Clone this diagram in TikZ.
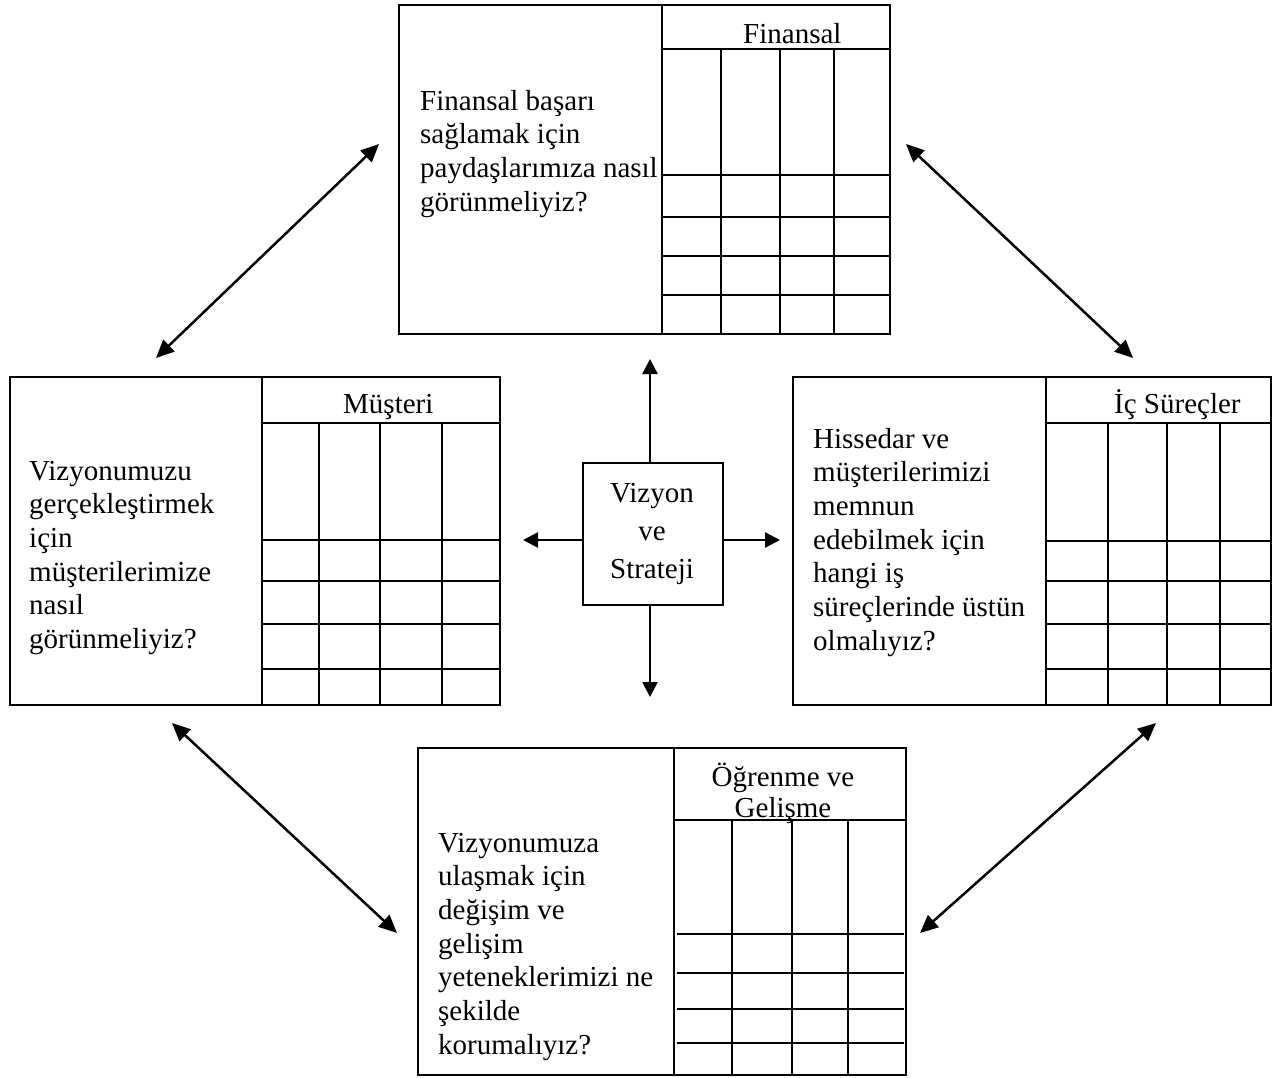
\documentclass[tikz,border=0pt]{standalone}
\usepackage{fontspec}
\setmainfont{Liberation Serif}
\usetikzlibrary{arrows.meta}
\begin{document}
\begin{tikzpicture}[x=1pt,y=-1pt,
  card/.style={draw, line width=1.8pt, inner sep=0pt, anchor=north west},
  gridline/.style={line width=1.8pt},
  txt/.style={anchor=base west, inner sep=0pt, font=\fontsize{29}{33.7}\selectfont},
  hdr/.style={anchor=base west, inner sep=0pt, font=\fontsize{29}{33.7}\selectfont},
  dblarrow/.style={line width=2.5pt, {Triangle[length=18pt,width=16pt]}-{Triangle[length=18pt,width=16pt]}},
  sarrow/.style={line width=2.5pt, -{Triangle[length=15pt,width=15pt]}}]
\useasboundingbox[fill=white] (0,0) rectangle (1277,1077);

% ---------- Top: Finansal ----------
\node[card, minimum width=491pt, minimum height=329pt] (fin) at (398,4) {};
\draw[gridline] (662,4) -- (662,333);
\draw[gridline] (662,49) -- (889,49);
\foreach \x in {721,780,834} \draw[gridline] (\x,49) -- (\x,333);
\foreach \y in {175,217,256,295} \draw[gridline] (662,\y) -- (889,\y);
\node[hdr] (finh) at (743,43) {Finansal};
\node[txt] (fint) at (420,110) {\begin{tabular}[t]{@{}l@{}}Finansal başarı\\ sağlamak için\\ paydaşlarımıza nasıl\\ görünmeliyiz?\end{tabular}};

% ---------- Left: Müşteri ----------
\node[card, minimum width=490pt, minimum height=328pt] (mus) at (9,376) {};
\draw[gridline] (262,376) -- (262,704);
\draw[gridline] (262,423) -- (499,423);
\foreach \x in {319,380,442} \draw[gridline] (\x,423) -- (\x,706);
\foreach \y in {540,581,624,669} \draw[gridline] (262,\y) -- (499,\y);
\node[hdr] (mush) at (343,413) {Müşteri};
\node[txt] (must) at (29,480) {\begin{tabular}[t]{@{}l@{}}Vizyonumuzu\\ gerçekleştirmek\\ için\\ müşterilerimize\\ nasıl\\ görünmeliyiz?\end{tabular}};

% ---------- Right: İç Süreçler ----------
\node[card, minimum width=478pt, minimum height=328pt] (ics) at (792,376) {};
\draw[gridline] (1046,376) -- (1046,704);
\draw[gridline] (1046,423) -- (1270,423);
\foreach \x in {1108,1167,1220} \draw[gridline] (\x,423) -- (\x,706);
\foreach \y in {541,581,624,669} \draw[gridline] (1046,\y) -- (1270,\y);
\node[hdr] (icsh) at (1114,413) {İç Süreçler};
\node[txt] (icst) at (813,448) {\begin{tabular}[t]{@{}l@{}}Hissedar ve\\ müşterilerimizi\\ memnun\\ edebilmek için\\ hangi iş\\ süreçlerinde üstün\\ olmalıyız?\end{tabular}};

% ---------- Bottom: Öğrenme ve Gelişme ----------
\node[card, minimum width=488pt, minimum height=327pt] (ogr) at (417,747) {};
\draw[gridline] (674,747) -- (674,1074);
\draw[gridline] (674,820) -- (905,820);
\foreach \x in {732,792,848} \draw[gridline] (\x,820) -- (\x,1074);
\foreach \y in {934,973,1009,1043} \draw[gridline] (677,\y) -- (904,\y);
\node[anchor=base, inner sep=0pt, font=\fontsize{29}{31.5}\selectfont] (ogrh) at (783,786) {\begin{tabular}[t]{@{}c@{}}Öğrenme ve\\ Gelişme\end{tabular}};
\node[txt] (ogrt) at (438,852) {\begin{tabular}[t]{@{}l@{}}Vizyonumuza\\ ulaşmak için\\ değişim ve\\ gelişim\\ yeteneklerimizi ne\\ şekilde\\ korumalıyız?\end{tabular}};

% ---------- Centre ----------
\node[card, minimum width=140pt, minimum height=142pt] (viz) at (582,462) {};
\node[anchor=base, inner sep=0pt, font=\fontsize{29}{38}\selectfont] (vizt) at (652,502) {\begin{tabular}[t]{@{}c@{}}Vizyon\\ ve\\ Strateji\end{tabular}};

\coordinate (up) at (650,359);
\coordinate (down) at (650,697);
\coordinate (left) at (523,540);
\coordinate (right) at (780,540);
\draw[sarrow] (viz.north -| up) -- (up);
\draw[sarrow] (viz.south -| down) -- (down);
\draw[sarrow] (viz.west |- left) -- (left);
\draw[sarrow] (viz.east |- right) -- (right);

% ---------- Diagonal double arrows ----------
\coordinate (tla) at (156,358);
\coordinate (tlb) at (379,144);
\coordinate (tra) at (906,144);
\coordinate (trb) at (1133,358);
\coordinate (bla) at (172,723);
\coordinate (blb) at (397,933);
\coordinate (bra) at (1156,723);
\coordinate (brb) at (920,933);
\draw[dblarrow] (tla) -- (tlb);
\draw[dblarrow] (tra) -- (trb);
\draw[dblarrow] (bla) -- (blb);
\draw[dblarrow] (bra) -- (brb);
\end{tikzpicture}
\end{document}
